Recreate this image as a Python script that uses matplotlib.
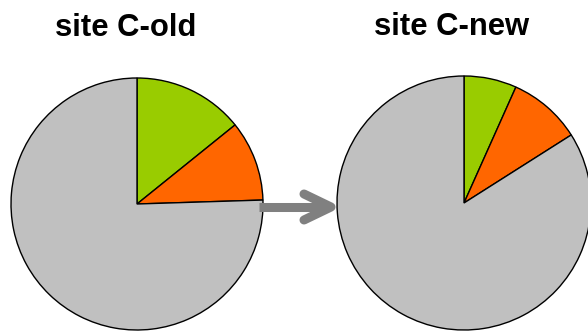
import matplotlib
matplotlib.use('Agg')
import matplotlib.pyplot as plt

# share of each category per site (green, orange, grey)
labels = ['green', 'orange', 'grey']
colors = ['#99CC00', '#FF6600', '#C0C0C0']
old_vals = [14.2, 10.3, 75.5]
new_vals = [6.7, 9.3, 84.0]
titles = ['site C-old', 'site C-new']

plt.rcParams['font.family'] = ['Liberation Sans', 'DejaVu Sans']

fig = plt.figure(figsize=(5.88, 3.31), dpi=100)
ax = fig.add_axes([0, 0, 1, 1])

# pixel-ish coordinates, origin at bottom left
W, H = 588, 331
wedge = dict(edgecolor='black', linewidth=1.0)

ax.pie(old_vals, colors=colors, startangle=90, counterclock=False,
       center=(137, H - 204), radius=126, wedgeprops=wedge)
ax.pie(new_vals, colors=colors, startangle=90, counterclock=False,
       center=(464, H - 203), radius=127, wedgeprops=wedge)

ax.text(126, H - 36, titles[0], ha='center', va='baseline',
        fontsize=22.3, fontweight='bold')
ax.text(452, H - 35, titles[1], ha='center', va='baseline',
        fontsize=22.3, fontweight='bold')

# arrow old -> new
ay = H - 207
ax.plot([259, 330], [ay, ay], color='#808080', lw=6.5,
        solid_capstyle='butt', zorder=5)
ax.plot([304, 331, 304], [ay + 13, ay, ay - 13], color='#808080', lw=6.5,
        solid_capstyle='round', solid_joinstyle='round', zorder=5)

ax.set_xlim(0, W)
ax.set_ylim(0, H)
ax.set_aspect('equal')
ax.axis('off')

fig.savefig('out.png', dpi=100)
